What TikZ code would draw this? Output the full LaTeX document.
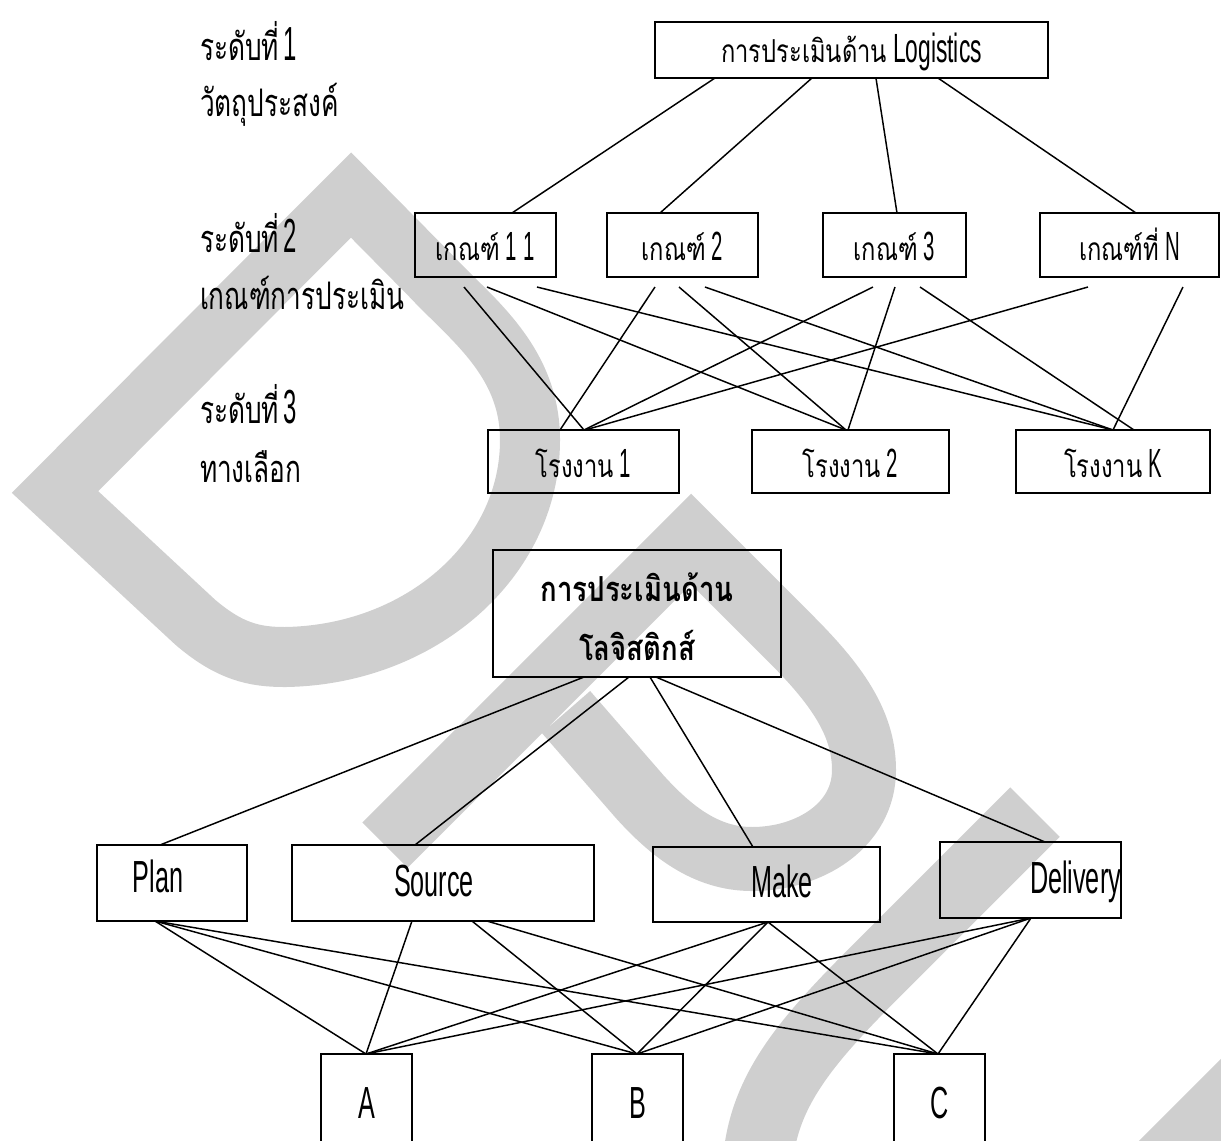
\documentclass[tikz,border=0pt]{standalone}
\usepackage{fontspec}
\usetikzlibrary{calc}
\newfontfamily\thaiN[Script=Thai,FakeStretch=0.75]{Loma}
\newfontfamily\thaiL[Script=Thai,FakeStretch=0.69]{Loma}
\newfontfamily\thaiW[Script=Thai,FakeStretch=0.8]{Loma}
\newfontfamily\latN[FakeStretch=0.56]{Liberation Sans}
\newfontfamily\latD[FakeStretch=0.5]{Liberation Sans}
\definecolor{wmgray}{RGB}{207,207,207}
% font switches
\newcommand\thA{\thaiL\fontsize{27}{30}\selectfont}
\newcommand\nuA{\latD\fontsize{34}{30}\selectfont}
\newcommand\thB{\thaiN\fontsize{22.5}{25}\selectfont}
\newcommand\nuB{\latD\fontsize{29}{30}\selectfont}
\newcommand\enC{\latN\fontsize{32}{36}\selectfont}
\newcommand\thBold{\thaiW\bfseries\fontsize{24.5}{41.3}\selectfont}
\begin{document}
\begin{tikzpicture}[x=0.025cm,y=-0.025cm,
  every node/.style={inner sep=0pt,outer sep=0pt},
  box/.style={draw,line width=1.4pt},
  link/.style={line width=1.05pt},
  wm/.style={draw=wmgray,line width=#1,line join=miter,line cap=butt}]
\useasboundingbox (0,0) rectangle (1221,1140);
\clip (0,0) rectangle (1221,1140);

% background mark
\draw[wm=1.5cm] (351,195) -- (55,492) -- (195,622)
  .. controls (230,652) and (255,657) .. (285,657)
  .. controls (420,655) and (530,560) .. (530,440)
  .. controls (530,360) and (470,318) .. (430,275) -- cycle;
\draw[wm=1.6cm] (385,845) -- (691,539) -- (790,638)
  .. controls (835,683) and (864,722) .. (864,770)
  .. controls (864,825) and (810,859) .. (752,859)
  .. controls (705,859) and (670,830) .. (640,797) -- (566,712);
\draw[wm=1.75cm] (1035,812) -- (900,947)
  .. controls (820,1027) and (765,1080) .. (758,1160);
\draw[wm=2.2cm] (1150,1192) -- (1320,1022);

% level captions
\node[anchor=base west] (c1a) at (200,60) {{\thA ระดับที่}\hspace{0.12cm}{\nuA 1}};
\node[anchor=base west] (c1b) at (200,116) {\thA วัตถุประสงค์};
\node[anchor=base west] (c2a) at (200,252) {{\thA ระดับที่}\hspace{0.12cm}{\nuA 2}};
\node[anchor=base west] (c2b) at (200,309) {\thA เกณฑ์การประเมิน};
\node[anchor=base west] (c3a) at (200,423) {{\thA ระดับที่}\hspace{0.12cm}{\nuA 3}};
\node[anchor=base west] (c3b) at (200,482) {\thA ทางเลือก};

% upper hierarchy
\node[box,minimum width=9.825cm,minimum height=1.4cm,text height=0.6cm,text depth=0pt]
  (L0) at (851.5,50) {{\thB การประเมินด้าน}\hspace{0.15cm}{\latN\fontsize{29}{30}\selectfont Logistics}};
\node[box,minimum width=3.525cm,minimum height=1.6cm,text height=0.75cm,text depth=0pt]
  (g1) at (485.5,245) {{\thB เกณฑ์}\hspace{0.15cm}{\nuB 1\,1}};
\node[box,minimum width=3.775cm,minimum height=1.6cm,text height=0.75cm,text depth=0pt]
  (g2) at (682.5,245) {{\thB เกณฑ์}\hspace{0.15cm}{\nuB 2}};
\node[box,minimum width=3.575cm,minimum height=1.6cm,text height=0.75cm,text depth=0pt]
  (g3) at (894.5,245) {{\thB เกณฑ์}\hspace{0.15cm}{\nuB 3}};
\node[box,minimum width=4.475cm,minimum height=1.6cm,text height=0.75cm,text depth=0pt]
  (gN) at (1129.5,245) {{\thB เกณฑ์ที่}\hspace{0.15cm}{\nuB N}};
\node[box,minimum width=4.775cm,minimum height=1.575cm,text height=0.775cm,text depth=0pt]
  (p1) at (583.5,461.5) {{\thB โรงงาน}\hspace{0.15cm}{\nuB 1}};
\node[box,minimum width=4.925cm,minimum height=1.575cm,text height=0.775cm,text depth=0pt]
  (p2) at (850.5,461.5) {{\thB โรงงาน}\hspace{0.15cm}{\nuB 2}};
\node[box,minimum width=4.85cm,minimum height=1.575cm,text height=0.775cm,text depth=0pt]
  (pK) at (1113,461.5) {{\thB โรงงาน}\hspace{0.15cm}{\nuB K}};

\draw[link] ($(L0.south west)+(60,0)$) -- ($(g1.north west)+(97,0)$);
\draw[link] ($(L0.south west)+(157,0)$) -- ($(g2.north west)+(53,0)$);
\draw[link] ($(L0.south west)+(221,0)$) -- ($(g3.north west)+(74,0)$);
\draw[link] ($(L0.south west)+(283,0)$) -- ($(gN.north west)+(96,0)$);

\draw[link] ($(g1.south west)+(49,10)$) -- ($(p1.north west)+(96,0)$);
\draw[link] ($(g1.south west)+(72,10)$) -- ($(p2.north west)+(94,0)$);
\draw[link] ($(g1.south west)+(122,10)$) -- ($(pK.north west)+(97,0)$);
\draw[link] ($(g2.south west)+(48,10)$) -- ($(p1.north west)+(72,0)$);
\draw[link] ($(g2.south west)+(72,10)$) -- ($(p2.north west)+(94,0)$);
\draw[link] ($(g2.south west)+(98,10)$) -- ($(pK.north west)+(97,0)$);
\draw[link] ($(g3.south west)+(50,10)$) -- ($(p1.north west)+(96,0)$);
\draw[link] ($(g3.south west)+(72,10)$) -- ($(p2.north west)+(96,0)$);
\draw[link] ($(g3.south west)+(97,10)$) -- ($(pK.north west)+(118,0)$);
\draw[link] ($(gN.south west)+(48,10)$) -- ($(p1.north west)+(97,0)$);
\draw[link] ($(gN.south west)+(143,10)$) -- ($(pK.north west)+(97,0)$);

% lower hierarchy
\node[box,minimum width=7.2cm,minimum height=3.175cm,align=center,font=\thBold,
  text height=2.325cm,text depth=0pt]
  (B0) at (637,613.5) {การประเมินด้าน\\โลจิสติกส์};
\node[box,minimum width=3.75cm,minimum height=1.9cm] (plan) at (172,883) {};
\node[box,minimum width=7.55cm,minimum height=1.9cm] (source) at (443,883) {};
\node[box,minimum width=5.675cm,minimum height=1.875cm] (make) at (766.5,884.5) {};
\node[box,minimum width=4.525cm,minimum height=1.9cm] (deliv) at (1030.5,880) {};
\node[anchor=base] (planT) at (158,892) {\enC Plan};
\node[anchor=base] (sourceT) at (434,896) {\enC Source};
\node[anchor=base] (makeT) at (782,897) {\enC Make};
\node[anchor=base east] (delivT) at (1121,893) {\enC Delivery};
\node[box,minimum width=2.275cm,minimum height=2.65cm,text height=0.55cm,text depth=0pt]
  (A) at (366.5,1107) {\enC A};
\node[box,minimum width=2.275cm,minimum height=2.65cm,text height=0.55cm,text depth=0pt]
  (B) at (637.5,1107) {\enC B};
\node[box,minimum width=2.275cm,minimum height=2.65cm,text height=0.55cm,text depth=0pt]
  (C) at (939.5,1107) {\enC C};

\draw[link] ($(B0.south west)+(91,0)$) -- ($(plan.north west)+(63,0)$);
\draw[link] ($(B0.south west)+(136,0)$) -- ($(source.north west)+(123,0)$);
\draw[link] ($(B0.south west)+(157,0)$) -- ($(make.north west)+(100,0)$);
\draw[link] ($(B0.south west)+(163,0)$) -- ($(deliv.north west)+(105,0)$);

\foreach \t/\d in {A/45,B/45,C/44}{
  \draw[link] ($(plan.south west)+(58,0)$) -- ($(\t.north west)+(\d,0)$);
  \draw[link] ($(make.south west)+(115,0)$) -- ($(\t.north west)+(\d,0)$);
  \draw[link] ($(deliv.south west)+(91,0)$) -- ($(\t.north west)+(\d,0)$);
}
\draw[link] ($(source.south west)+(120,0)$) -- ($(A.north west)+(45,0)$);
\draw[link] ($(source.south west)+(180,0)$) -- ($(B.north west)+(45,0)$);
\draw[link] ($(source.south west)+(195,0)$) -- ($(C.north west)+(44,0)$);
\end{tikzpicture}
\end{document}
